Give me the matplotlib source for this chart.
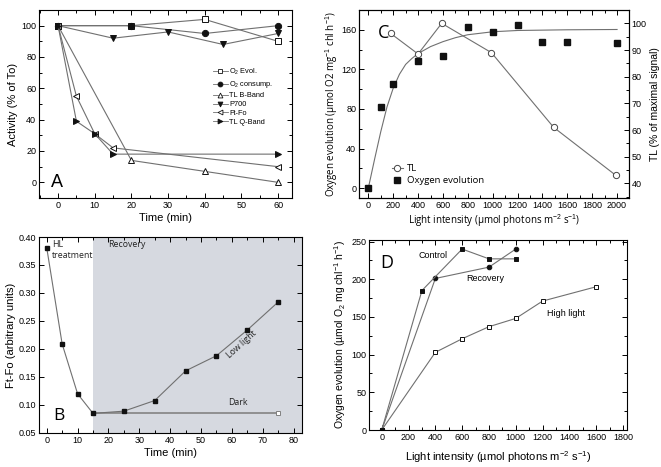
import matplotlib
matplotlib.use("Agg")
import matplotlib.pyplot as plt
from matplotlib.ticker import MultipleLocator, FormatStrFormatter
from matplotlib.lines import Line2D

plt.rcParams['font.family'] = ['Liberation Sans', 'DejaVu Sans']
plt.rcParams['mathtext.fontset'] = 'custom'
plt.rcParams['mathtext.rm'] = 'Liberation Sans'
plt.rcParams['mathtext.it'] = 'Liberation Sans:italic'

# ---------------- Panel A data ----------------
a_o2evol_t = [0, 20, 40, 60]
a_o2evol_v = [100, 100, 104, 90]
a_o2cons_t = [0, 20, 40, 60]
a_o2cons_v = [100, 100, 95, 100]
a_tlb_t = [0, 20, 40, 60]
a_tlb_v = [100, 14, 7, 0]
a_p700_t = [0, 15, 30, 45, 60]
a_p700_v = [100, 92, 96, 88, 95]
a_ftfo_t = [0, 5, 10, 15, 60]
a_ftfo_v = [100, 55, 31, 22, 10]
a_tlq_t = [0, 5, 10, 15, 60]
a_tlq_v = [100, 39, 31, 18, 18]
a_labels = ['O$_2$ Evol.', 'O$_2$ consump.', 'TL B-Band', 'P700', 'Ft-Fo', 'TL Q-Band']

# ---------------- Panel B data ----------------
b_low_t = [0, 5, 10, 15, 25, 35, 45, 55, 65, 75]
b_low_v = [0.381, 0.209, 0.120, 0.085, 0.089, 0.108, 0.161, 0.188, 0.234, 0.284]
b_dark_t = [15, 75]
b_dark_v = [0.085, 0.085]

# ---------------- Panel C data ----------------
c_o2_I = [0, 100, 200, 400, 600, 800, 1000, 1200, 1400, 1600, 2000]
c_o2_v = [0, 82, 105, 128, 134, 163, 158, 165, 148, 148, 147]
c_fit_I = [0, 50, 100, 150, 200, 250, 300, 350, 400, 500, 600, 700, 800, 1000, 1200, 1600, 2000]
c_fit_v = [0, 29, 57, 82, 101, 115, 125, 131, 136, 143, 148, 152, 155, 158, 159.3, 160, 160.3]
c_tl_I = [180, 400, 590, 990, 1490, 1990]
c_tl_v = [96.2, 88.5, 100, 89, 61, 43]

# ---------------- Panel D data ----------------
d_ctrl_I = [0, 300, 600, 800, 1000]
d_ctrl_v = [0, 185, 240, 227, 227]
d_rec_I = [0, 400, 800, 1000]
d_rec_v = [0, 201, 216, 240]
d_hl_I = [0, 400, 600, 800, 1000, 1200, 1600]
d_hl_v = [0, 103, 121, 137, 148, 171, 190]

W, H = 661, 467
fig = plt.figure(figsize=(W / 100, H / 100), dpi=100)


def ax_at(l, t, r, b):
    return fig.add_axes([l / W, 1 - b / H, (r - l) / W, (b - t) / H])


LC = '#707070'
MC = '#111111'
TICK = 6.5
LAB = 8.0
LW = 0.8
mf = ['Open Sans', 'DejaVu Sans']


def style(ax, top=True, right=True):
    ax.tick_params(which='both', direction='in', top=top, right=right,
                   labelsize=TICK, width=0.7, pad=2)
    ax.tick_params(which='major', length=3.5)
    ax.tick_params(which='minor', length=2)
    for s in ax.spines.values():
        s.set_linewidth(0.8)


# ---------------- Panel A ----------------
axA = ax_at(39, 10, 292, 198)
kw = dict(color=LC, lw=LW, ms=4.5, mec=MC, mew=0.7)
hA = []
hA += axA.plot(a_o2evol_t, a_o2evol_v, marker='s', mfc='white', **kw)
hA += axA.plot(a_o2cons_t, a_o2cons_v, marker='o', mfc=MC, **kw)
hA += axA.plot(a_tlb_t, a_tlb_v, marker='^', mfc='white', **kw)
hA += axA.plot(a_p700_t, a_p700_v, marker='v', mfc=MC, **kw)
hA += axA.plot(a_ftfo_t, a_ftfo_v, marker='<', mfc='white', **kw)
hA += axA.plot(a_tlq_t, a_tlq_v, marker='>', mfc=MC, **kw)
axA.set_xlim(-5.2, 63.8)
axA.set_ylim(-10, 110)
axA.xaxis.set_major_locator(MultipleLocator(10))
axA.xaxis.set_minor_locator(MultipleLocator(5))
axA.yaxis.set_major_locator(MultipleLocator(20))
axA.yaxis.set_minor_locator(MultipleLocator(10))
style(axA)
axA.set_xlabel('Time (min)', fontsize=LAB, labelpad=2)
axA.set_ylabel('Activity (% of To)', fontsize=LAB, labelpad=2)
legA = [Line2D([0], [0], color=LC, lw=0.6, marker=h.get_marker(), ms=3.5,
               mfc=h.get_markerfacecolor(), mec=MC, mew=0.6) for h in hA]
axA.legend(legA, a_labels, loc='upper left', bbox_to_anchor=(0.67, 0.72),
           frameon=False, fontsize=5.3, handlelength=2.0, handletextpad=0.2,
           labelspacing=0.25, borderpad=0.1)
axA.text(-2, 0, 'A', fontsize=13, ha='left', va='center')

# ---------------- Panel B ----------------
axB = ax_at(39, 237, 302, 433)
axB.axvspan(15, 90, color='#d6d9e0', lw=0, zorder=0)
axB.plot(b_dark_t, b_dark_v, color='#8a8a8a', lw=1.3, marker='s', ms=3.3,
         mfc='white', mec='#808080', mew=0.7, zorder=2)
axB.plot(b_low_t, b_low_v, color=LC, lw=LW, marker='s', ms=3.3, mfc=MC,
         mec=MC, zorder=3)
axB.set_xlim(-2.5, 82.7)
axB.set_ylim(0.05, 0.40)
axB.xaxis.set_major_locator(MultipleLocator(10))
axB.xaxis.set_minor_locator(MultipleLocator(5))
axB.yaxis.set_major_locator(MultipleLocator(0.05))
axB.yaxis.set_major_formatter(FormatStrFormatter('%.2f'))
style(axB)
axB.set_xlabel('Time (min)', fontsize=LAB, labelpad=2)
axB.set_ylabel('Ft-Fo (arbitrary units)', fontsize=LAB, labelpad=2)
axB.text(1.6, 0.395, 'HL\ntreatment', fontsize=6.3, family=mf, va='top',
         ha='left', linespacing=1.35, color='#222222')
axB.text(19.8, 0.395, 'Recovery', fontsize=6.3, family=mf, va='top',
         color='#222222')
axB.text(63, 0.208, 'Low light', fontsize=6.3, family=mf, rotation=42,
         ha='center', va='center', color='#222222')
axB.text(62, 0.104, 'Dark', fontsize=6.3, family=mf, ha='center',
         va='center', color='#222222')
axB.text(2, 0.080, 'B', fontsize=12.5, family=mf, ha='left', va='center')

# ---------------- Panel C ----------------
axC = ax_at(359, 10, 629, 198)
axC.plot(c_fit_I, c_fit_v, color=LC, lw=LW, zorder=2)
hO2, = axC.plot(c_o2_I, c_o2_v, ls='none', marker='s', ms=4.3, mfc=MC,
                mec=MC, zorder=3)
axC.set_xlim(-75, 2096)
axC.set_ylim(-10, 180)
axC.xaxis.set_major_locator(MultipleLocator(200))
axC.xaxis.set_minor_locator(MultipleLocator(100))
axC.yaxis.set_major_locator(MultipleLocator(40))
axC.yaxis.set_minor_locator(MultipleLocator(20))
style(axC, right=False)
axC2 = axC.twinx()
hTL, = axC2.plot(c_tl_I, c_tl_v, color=LC, lw=LW, marker='o', ms=4.5,
                 mfc='white', mec='#444444', mew=0.7)
axC2.set_ylim(34.5, 105)
axC2.yaxis.set_major_locator(MultipleLocator(10))
axC2.yaxis.set_minor_locator(MultipleLocator(5))
axC2.tick_params(which='both', direction='in', labelsize=TICK, width=0.7,
                 pad=2)
axC2.tick_params(which='major', length=3.5)
axC2.tick_params(which='minor', length=2)
axC.set_xlabel('Light intensity (µmol photons m$^{-2}$ s$^{-1}$)',
               fontsize=7, labelpad=2, family=mf)
axC.set_ylabel('Oxygen evolution (µmol O2 mg$^{-1}$ chl h$^{-1}$)',
               fontsize=7, labelpad=1, family=mf)
axC2.set_ylabel('TL (% of maximal signal)', fontsize=7.5, labelpad=2)
axC.legend([hTL, hO2], ['TL', 'Oxygen evolution'], loc='lower left',
           bbox_to_anchor=(0.1, 0.04), frameon=False,
           prop={'family': mf, 'size': 6.8}, handlelength=1.2,
           handletextpad=0.4, labelspacing=0.3, borderpad=0.1)
axC.text(80, 157, 'C', fontsize=13, family=mf, ha='left', va='center')

# ---------------- Panel D ----------------
axD = ax_at(369, 240, 627, 430)
kd = dict(color=LC, lw=LW, ms=3.3, mec=MC, mew=0.7)
axD.plot(d_hl_I, d_hl_v, marker='s', mfc='white', **kd)
axD.plot(d_rec_I, d_rec_v, marker='o', mfc=MC, **kd)
axD.plot(d_ctrl_I, d_ctrl_v, marker='s', mfc=MC, **kd)
axD.set_xlim(-95, 1830)
axD.set_ylim(0, 252)
axD.xaxis.set_major_locator(MultipleLocator(200))
axD.xaxis.set_minor_locator(MultipleLocator(100))
axD.yaxis.set_major_locator(MultipleLocator(50))
axD.yaxis.set_minor_locator(MultipleLocator(25))
style(axD)
axD.set_xlabel('Light intensity (µmol photons m$^{-2}$ s$^{-1}$)',
               fontsize=LAB, labelpad=5)
axD.set_ylabel('Oxygen evolution (µmol O$_2$ mg chl$^{-1}$ h$^{-1}$)',
               fontsize=7.5, labelpad=2)
axD.text(382, 232, 'Control', fontsize=6.5, ha='center', va='center')
axD.text(770, 201, 'Recovery', fontsize=6.5, ha='center', va='center')
axD.text(1374, 155, 'High light', fontsize=6.5, ha='center', va='center')
axD.text(-10, 222, 'D', fontsize=13, family=mf, ha='left', va='center')

fig.savefig('out.png', dpi=100)
